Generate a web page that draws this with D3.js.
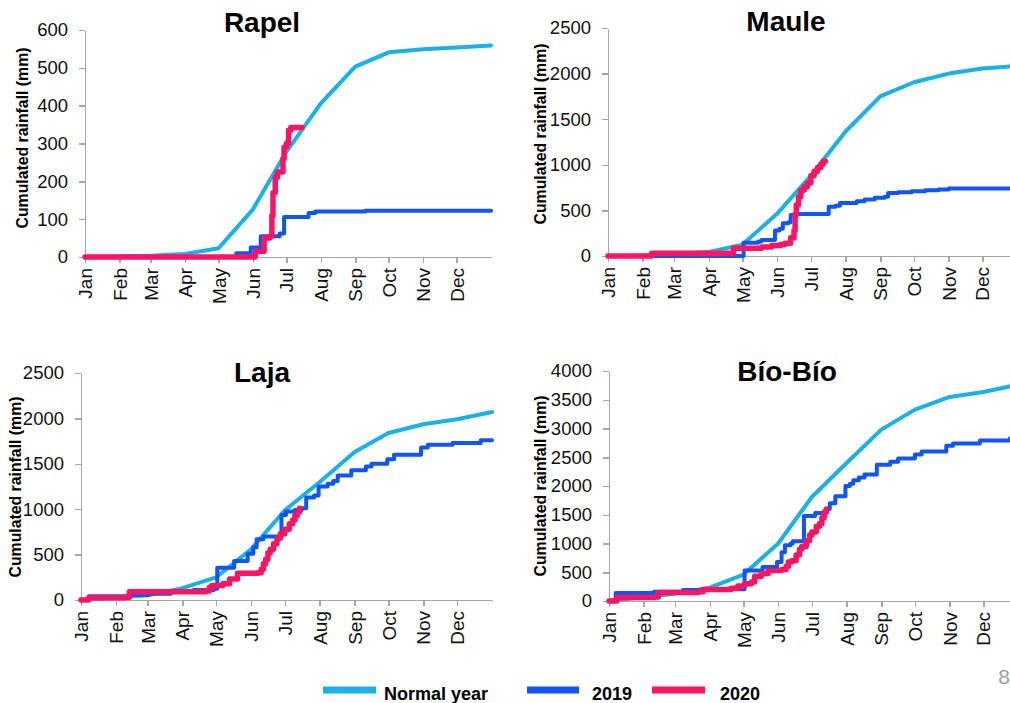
<!DOCTYPE html>
<html lang='en'>
<head>
    <meta charset='UTF-8'>
    <title>Cumulated rainfall</title>
    <script src='https://cdn.jsdelivr.net/npm/d3@7/dist/d3.min.js'></script>
    <style>
        body {
            margin: 0;
            background: #fff;
            font-family: 'Liberation Sans', Arial, sans-serif;
        }

        .axis path,
        .axis line {
            fill: none;
            stroke: #a6a6a6;
            stroke-width: 1.5;
            shape-rendering: crispEdges;
        }

        .axis text {
            font-size: 18.5px;
            fill: #111;
        }

        .series {
            fill: none;
            stroke-linejoin: round;
            stroke-linecap: round;
        }
    </style>
</head>
<body>
    <script>
        // Month labels and the day of year each month starts on
        const months = ['Jan', 'Feb', 'Mar', 'Apr', 'May', 'Jun', 'Jul', 'Aug', 'Sep', 'Oct', 'Nov', 'Dec'];
        const monthStarts = [0, 31, 59, 90, 120, 151, 181, 212, 243, 273, 304, 334];

        // [day of year, cumulated mm]
        const rapelNormal = [[0, 0], [31, 1], [59, 3], [90, 8], [120, 23], [151, 126], [181, 278], [212, 406], [243, 503], [273, 541], [304, 549], [334, 554], [365, 559]];
        const rapel2019 = [[0, 0], [136, 10], [149, 25], [158, 55], [175, 62], [179, 106], [201, 116], [207, 120], [252, 122], [365, 122]];
        const rapel2020 = [[0, 0], [153, 15], [161, 50], [166, 55], [168, 110], [169, 170], [171, 210], [173, 225], [178, 260], [179, 290], [181, 300], [183, 335], [185, 342], [195, 342]];

        const mauleNormal = [[0, 0], [31, 4], [59, 18], [90, 44], [120, 125], [151, 465], [181, 880], [212, 1365], [243, 1750], [273, 1905], [304, 2000], [334, 2057], [365, 2083]];
        const maule2019 = [[0, 0], [121, 145], [134, 160], [137, 175], [149, 280], [153, 300], [156, 360], [161, 370], [163, 450], [166, 460], [197, 540], [203, 550], [207, 580], [222, 600], [229, 620], [238, 640], [247, 650], [250, 690], [259, 700], [271, 710], [283, 720], [295, 730], [304, 740], [365, 745]];
        const maule2020 = [[0, 0], [39, 30], [112, 85], [137, 100], [146, 115], [154, 125], [158, 140], [163, 200], [166, 280], [167, 450], [168, 560], [170, 650], [172, 720], [175, 760], [178, 800], [181, 880], [184, 930], [187, 970], [190, 1010], [192, 1040], [194, 1040]];

        const lajaNormal = [[0, 0], [31, 26], [59, 51], [90, 130], [120, 250], [151, 558], [181, 988], [212, 1300], [243, 1630], [273, 1839], [304, 1935], [334, 1990], [365, 2070]];
        const laja2019 = [[0, 0], [7, 40], [42, 55], [60, 70], [80, 90], [100, 110], [118, 125], [121, 355], [136, 430], [148, 510], [153, 580], [156, 670], [162, 700], [178, 935], [182, 975], [190, 990], [196, 1010], [200, 1130], [207, 1150], [211, 1250], [219, 1280], [224, 1310], [228, 1370], [240, 1430], [253, 1470], [258, 1500], [272, 1550], [278, 1600], [302, 1680], [308, 1710], [330, 1730], [355, 1760], [365, 1760]];
        const laja2020 = [[0, 0], [7, 25], [39, 30], [43, 90], [111, 100], [114, 140], [116, 160], [126, 180], [132, 230], [139, 295], [157, 300], [160, 340], [162, 400], [164, 450], [166, 520], [168, 560], [171, 620], [174, 680], [177, 730], [181, 780], [185, 840], [188, 880], [190, 930], [192, 970], [194, 1010]];

        const bioNormal = [[0, 0], [31, 70], [59, 128], [90, 232], [120, 460], [151, 1000], [181, 1809], [212, 2400], [243, 2980], [273, 3328], [304, 3548], [334, 3635], [365, 3762]];
        const bio2019 = [[0, 0], [6, 140], [40, 160], [66, 190], [83, 205], [121, 530], [137, 590], [150, 680], [154, 850], [157, 970], [162, 1000], [164, 1040], [174, 1480], [184, 1530], [194, 1600], [197, 1700], [202, 1820], [211, 2000], [215, 2040], [218, 2100], [223, 2150], [228, 2200], [239, 2370], [251, 2420], [258, 2480], [273, 2550], [279, 2600], [301, 2700], [307, 2740], [331, 2790], [358, 2830], [365, 2830]];
        const bio2020 = [[0, 0], [7, 60], [41, 70], [44, 150], [80, 160], [84, 200], [109, 220], [115, 260], [121, 300], [127, 330], [130, 430], [136, 480], [142, 530], [154, 550], [158, 600], [160, 680], [163, 700], [167, 800], [170, 900], [172, 950], [176, 1050], [179, 1150], [181, 1200], [185, 1300], [188, 1350], [190, 1450], [192, 1550], [194, 1600]];

        const legendLabels = ['Normal year', '2019', '2020'];

        /**
         * ===================================================
         * Layout & styles
         * ===================================================
        */
        const colors = { normal: '#19b1e8', y2019: '#0f55f7', y2020: '#ff1464' };

        const panels = [
            { title: 'Rapel', left: 85, right: 491, top: 30, bottom: 257, yMax: 600, yStep: 100, titleX: 262, titleY: 32, yTitleX: 22, yTitleY: 138, normal: rapelNormal, s2019: rapel2019, s2020: rapel2020 },
            { title: 'Maule', left: 608, right: 1017, top: 28, bottom: 256, yMax: 2500, yStep: 500, titleX: 786, titleY: 31, yTitleX: 540, yTitleY: 134, normal: mauleNormal, s2019: maule2019, s2020: maule2020 },
            { title: 'Laja', left: 81, right: 492, top: 373, bottom: 600, yMax: 2500, yStep: 500, titleX: 262, titleY: 382, yTitleX: 15, yTitleY: 487, normal: lajaNormal, s2019: laja2019, s2020: laja2020 },
            { title: 'Bío-Bío', left: 609, right: 1018, top: 371, bottom: 601, yMax: 4000, yStep: 500, titleX: 787, titleY: 381, yTitleX: 540, yTitleY: 486, normal: bioNormal, s2019: bio2019, s2020: bio2020 }
        ];

        const svg = d3.select('body')
            .append('svg')
            .attr('width', 1010)
            .attr('height', 703);

        panels.forEach(p => {
            const x = d3.scaleLinear().domain([0, 365]).range([p.left, p.right]);
            const y = d3.scaleLinear().domain([0, p.yMax]).range([p.bottom, p.top]);

            const g = svg.append('g');

            // y axis
            g.append('g')
                .attr('class', 'axis')
                .attr('transform', `translate(${p.left},0)`)
                .call(d3.axisLeft(y)
                    .tickValues(d3.range(0, p.yMax + 1, p.yStep))
                    .tickFormat(d3.format('d'))
                    .tickSize(6).tickSizeOuter(0).tickPadding(11));

            // x axis, month labels turned upright
            g.append('g')
                .attr('class', 'axis')
                .attr('transform', `translate(0,${p.bottom})`)
                .call(d3.axisBottom(x).tickValues(monthStarts).tickFormat((d, i) => months[i]).tickSize(6).tickSizeOuter(0))
                .selectAll('text')
                .attr('transform', 'rotate(-90)')
                .attr('x', -11)
                .attr('y', 0)
                .attr('dy', '0.35em')
                .style('font-size', '19px')
                .style('text-anchor', 'end');

            const lin = d3.line().x(d => x(d[0])).y(d => y(d[1]));
            const step = d3.line().x(d => x(d[0])).y(d => y(d[1])).curve(d3.curveStepAfter);

            g.append('path').datum(p.normal).attr('class', 'series')
                .attr('stroke', colors.normal).attr('stroke-width', 4).attr('d', lin);
            g.append('path').datum(p.s2019).attr('class', 'series')
                .attr('stroke', colors.y2019).attr('stroke-width', 4).attr('d', step);
            g.append('path').datum(p.s2020).attr('class', 'series')
                .attr('stroke', colors.y2020).attr('stroke-width', 5.5).attr('d', step);

            // titles
            g.append('text')
                .attr('x', p.titleX)
                .attr('y', p.titleY)
                .attr('text-anchor', 'middle')
                .style('font-size', '28px')
                .style('font-weight', 'bold')
                .text(p.title);

            g.append('text')
                .attr('transform', `translate(${p.yTitleX},${p.yTitleY}) rotate(-90)`)
                .attr('text-anchor', 'middle')
                .attr('dy', '0.35em')
                .attr('textLength', 181)
                .attr('lengthAdjust', 'spacingAndGlyphs')
                .style('font-size', '16px')
                .style('font-weight', 'bold')
                .text('Cumulated rainfall (mm)');
        });

        // Legend
        const legendPos = [
            { x1: 323, x2: 376, tx: 384, color: colors.normal },
            { x1: 527, x2: 579, tx: 592, color: colors.y2019 },
            { x1: 652, x2: 705, tx: 720, color: colors.y2020 }
        ];
        const legend = svg.append('g');
        legendLabels.forEach((label, i) => {
            const l = legendPos[i];
            legend.append('line')
                .attr('x1', l.x1).attr('x2', l.x2)
                .attr('y1', 690).attr('y2', 690)
                .attr('stroke', l.color)
                .attr('stroke-width', 7);
            legend.append('text')
                .attr('x', l.tx)
                .attr('y', 700)
                .style('font-size', '18px')
                .style('font-weight', 'bold')
                .text(label);
        });

        // slide number
        svg.append('text')
            .attr('x', 1004)
            .attr('y', 684)
            .attr('text-anchor', 'middle')
            .style('font-size', '21px')
            .style('fill', '#a0a0a0')
            .text('8');
    </script>
</body>
</html>
